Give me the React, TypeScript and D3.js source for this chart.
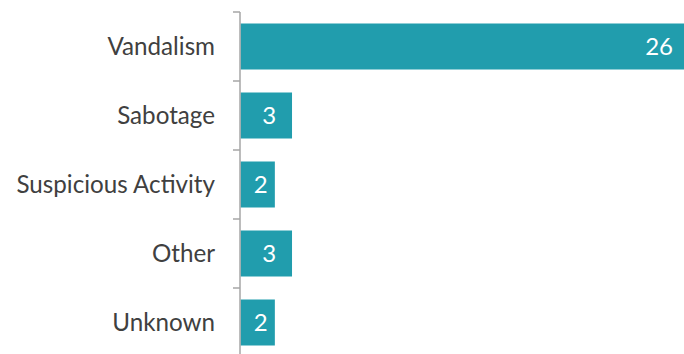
import React from "react";
import * as d3 from "d3";

const categories = ["Vandalism", "Sabotage", "Suspicious Activity", "Other", "Unknown"];
const values = [26, 3, 2, 3, 2];

const W = 684;
const H = 354;
const FONT = "Lato, 'Open Sans', sans-serif";

export default function App() {
  const x = d3.scaleLinear().domain([0, 26]).range([240.5, 687]);
  const y = d3
    .scaleBand<string>()
    .domain(categories)
    .range([12, 357])
    .paddingInner(1 / 3)
    .paddingOuter(1 / 6);
  const step = y.step();
  const boundaries = categories.map((c) => (y(c) as number) - (step * 1) / 6);

  return (
    <svg
      width={W}
      height={H}
      style={{ position: "absolute", left: 0, top: 0, background: "#fff" }}
    >
      {categories.map((c, i) => {
        const x0 = x(0);
        const x1 = x(values[i]);
        const wide = x1 - x0 > 80;
        const lx = wide ? Math.min(x1, W) - 11 : (x0 + x1) / 2 + 3;
        return (
          <g key={c}>
            <rect x={x0} y={y(c)} width={x1 - x0} height={y.bandwidth()} fill="#219DAD" />
            <text
              x={lx}
              y={(y(c) as number) + y.bandwidth() / 2}
              dy="0.35em"
              textAnchor={wide ? "end" : "middle"}
              fill="#ffffff"
              fontFamily={FONT}
              fontSize={24}
            >
              {values[i]}
            </text>
            <text
              x={215}
              y={(y(c) as number) + y.bandwidth() / 2}
              dy="0.35em"
              textAnchor="end"
              fill="#404040"
              fontFamily={FONT}
              fontSize={24.2}
            >
              {c}
            </text>
          </g>
        );
      })}
      <line x1={240} x2={240} y1={12} y2={357} stroke="#a6a6a6" strokeWidth={1.5} />
      {boundaries.map((b, i) => (
        <line key={i} x1={233} x2={240} y1={b} y2={b} stroke="#a6a6a6" strokeWidth={1.5} />
      ))}
    </svg>
  );
}
